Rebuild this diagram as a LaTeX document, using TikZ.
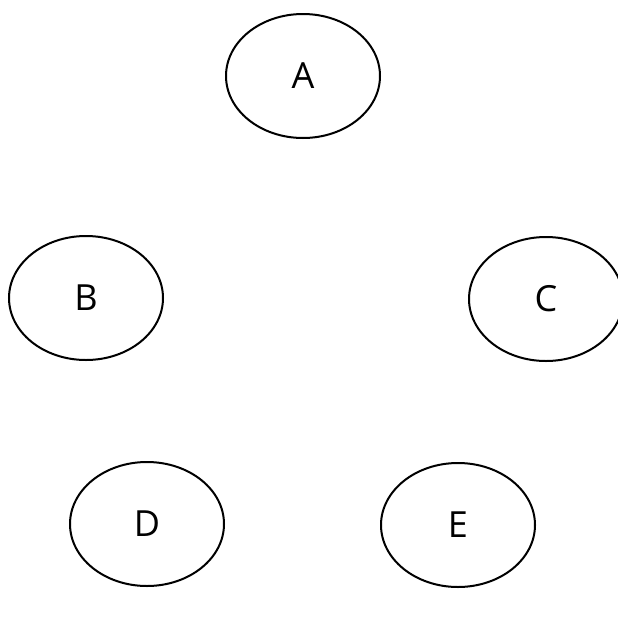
\documentclass[tikz,border=0pt]{standalone}
\usepackage{fontspec}
\setmainfont{Open Sans}
\usetikzlibrary{shapes.geometric}
\tikzset{
  oval/.style={ellipse, draw=black, line width=2pt, minimum width=154pt, minimum height=124pt, inner sep=0pt, font=\fontsize{36}{36}\selectfont},
}
\begin{document}
\begin{tikzpicture}[x=1pt,y=-1pt]
\useasboundingbox[fill=white] (0,0) rectangle (618,616);
\node[oval] (A) at (303,76) {A};
\node[oval] (B) at (86,298) {B};
\node[oval] (C) at (546,299) {C};
\node[oval] (D) at (147,524) {D};
\node[oval] (E) at (458,525) {E};
\end{tikzpicture}
\end{document}
